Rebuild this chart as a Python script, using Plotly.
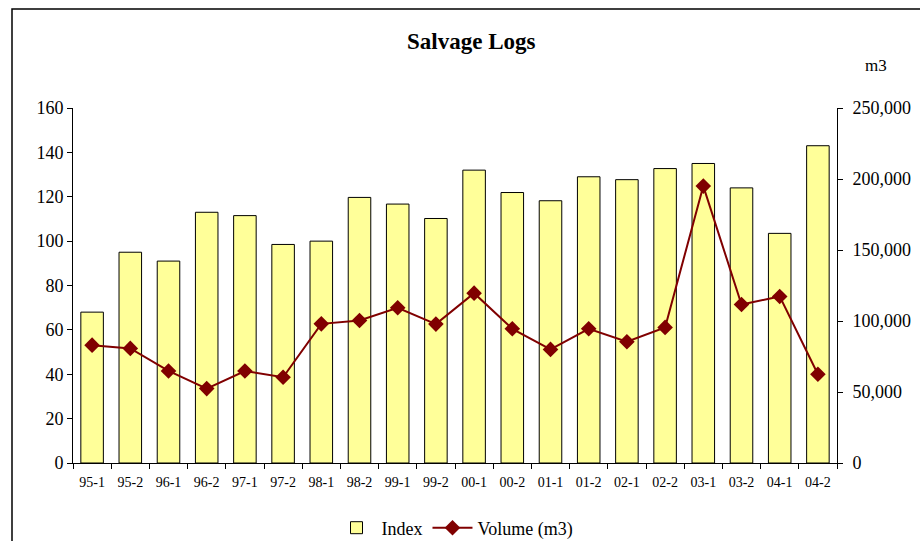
import plotly.graph_objects as go

categories = ["95-1", "95-2", "96-1", "96-2", "97-1", "97-2", "98-1", "98-2", "99-1", "99-2",
              "00-1", "00-2", "01-1", "01-2", "02-1", "02-2", "03-1", "03-2", "04-1", "04-2"]
index_values = [68, 95, 91, 113, 111.5, 98.5, 100, 119.7, 116.7, 110.2,
                132, 121.9, 118.2, 129, 127.7, 132.7, 135, 124, 103.5, 143]
volume_values = [83000, 80700, 64800, 52400, 64800, 60400, 98000, 100300, 109300, 97800,
                 119600, 94500, 80000, 94500, 85400, 95500, 195000, 111600, 117300, 62500]
left_ticks = [0, 20, 40, 60, 80, 100, 120, 140, 160]
right_ticks = [0, 50000, 100000, 150000, 200000, 250000]

FONT = "Liberation Serif"

fig = go.Figure()
fig.add_trace(go.Bar(
    x=categories, y=index_values, name="Index",
    marker=dict(color="#FFFF99", line=dict(color="#000000", width=1)),
    yaxis="y",
))
fig.add_trace(go.Scatter(
    x=categories, y=volume_values, name="Volume (m3)", mode="lines+markers",
    line=dict(color="#800000", width=2),
    marker=dict(symbol="diamond", size=12, color="#800000"),
    yaxis="y2",
))

fig.update_layout(
    width=920, height=541,
    margin=dict(l=73, r=83, t=108, b=78, autoexpand=False),
    paper_bgcolor="white", plot_bgcolor="white",
    font=dict(family=FONT, color="#000000", size=18),
    bargap=0.41,
    showlegend=True,
    legend=dict(orientation="h", x=0.5, xanchor="center", y=(463 - 528) / 355, yanchor="middle",
                font=dict(family=FONT, size=18), traceorder="normal", itemwidth=40),
    xaxis=dict(
        type="category", range=[-0.5, len(categories) - 0.5],
        showline=True, linecolor="#000000", linewidth=1,
        ticks="outside", ticklen=5, tickcolor="#000000", tickson="boundaries",
        ticklabelstandoff=6,
        tickfont=dict(family=FONT, size=14), showgrid=False, zeroline=False,
    ),
    yaxis=dict(
        range=[0, 160], tickvals=left_ticks, showline=True, linecolor="#000000", linewidth=1,
        ticks="outside", ticklen=5, tickcolor="#000000", showgrid=False, zeroline=False,
        tickfont=dict(family=FONT, size=18),
    ),
    yaxis2=dict(
        range=[0, 250000], tickvals=right_ticks, tickformat=",", overlaying="y", side="right",
        showline=True, linecolor="#000000", linewidth=1, ticks="outside", ticklen=5,
        tickcolor="#000000", showgrid=False, zeroline=False, ticklabelstandoff=6,
        tickfont=dict(family=FONT, size=18),
    ),
    annotations=[
        dict(text="<b>Salvage Logs</b>", xref="paper", yref="paper",
             x=(471 - 73) / 764, y=(463 - 41) / 355, xanchor="center", yanchor="middle",
             showarrow=False, font=dict(family=FONT, size=23)),
        dict(text="m3", xref="paper", yref="paper",
             x=(876 - 73) / 764, y=(463 - 66) / 355, xanchor="center", yanchor="middle",
             showarrow=False, font=dict(family=FONT, size=17)),
    ],
    shapes=[
        dict(type="rect", xref="paper", yref="paper",
             x0=(12 - 73) / 764, x1=(930 - 73) / 764,
             y0=(463 - 560) / 355, y1=(463 - 9) / 355,
             line=dict(color="#000000", width=1.5), fillcolor="rgba(0,0,0,0)", layer="below"),
    ],
)

fig.write_html("out.html", post_script="document.body.style.margin='0';",
               config={"displayModeBar": False})
